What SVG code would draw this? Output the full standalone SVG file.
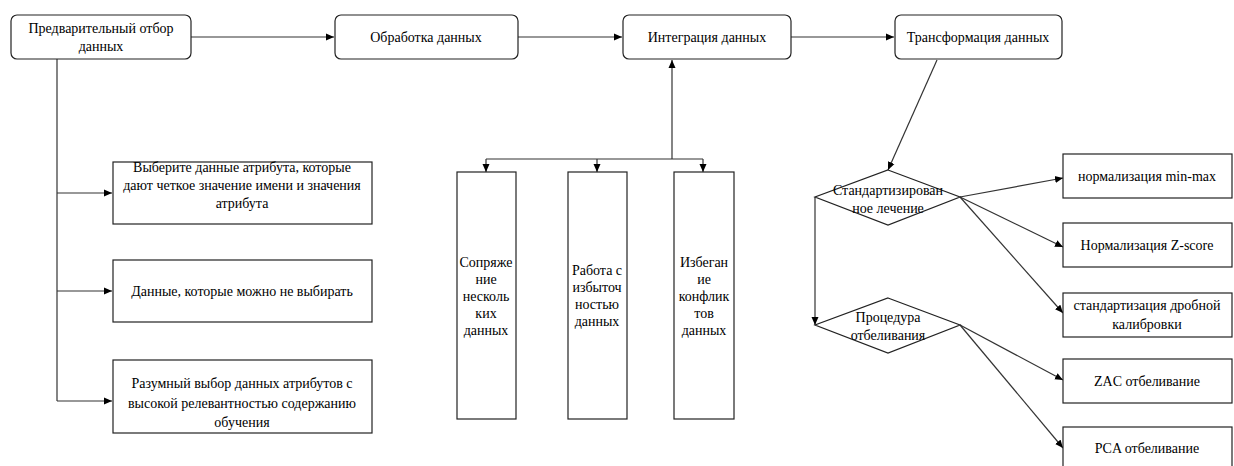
<svg xmlns="http://www.w3.org/2000/svg" width="1234" height="466" viewBox="0 0 1234 466">
<defs>
<marker id="ah" markerWidth="9" markerHeight="8" refX="8" refY="4" orient="auto" markerUnits="userSpaceOnUse">
<path d="M0,0.5 L8,4 L0,7.5 Z" fill="#000" stroke="none"/>
</marker>
<style>
.n{fill:#fff;stroke:#222;stroke-width:1.2}
.c{fill:none;stroke:#333;stroke-width:1.2}
.a{marker-end:url(#ah)}
</style>
</defs>
<rect width="1234" height="466" fill="#fff"/>
<g id="connectors">
<path class="c a" d="M191,37 L334,37"/>
<path class="c a" d="M518,37 L622,37"/>
<path class="c a" d="M791,37 L894,37"/>
<path class="c" d="M57,59 L57,401"/>
<path class="c a" d="M57,193 L112,193"/>
<path class="c a" d="M57,291 L112,291"/>
<path class="c a" d="M57,401 L112,401"/>
<path class="c a" d="M672,159 L672,60"/>
<path class="c" d="M486,159 L703,159"/>
<path class="c a" d="M486,159 L486,172"/>
<path class="c a" d="M597,159 L597,172"/>
<path class="c a" d="M703,159 L703,172"/>
<path class="c a" d="M937,60 L888,170"/>
<path class="c a" d="M815,197 L815,325"/>
<path class="c a" d="M960,197 L1063,178"/>
<path class="c a" d="M960,197 L1063,247"/>
<path class="c a" d="M960,197 L1063,313"/>
<path class="c a" d="M960,325 L1063,380"/>
<path class="c a" d="M960,325 L1063,448"/>
</g>
<g id="n1"><rect class="n" x="11" y="15" width="180" height="44" rx="6"/><text font-family="Times New Roman" font-size="14" text-anchor="middle" x="101" y="33">Предварительный отбор</text><text font-family="Times New Roman" font-size="14" text-anchor="middle" x="101" y="51">данных</text></g>
<g id="n2"><rect class="n" x="335" y="15" width="183" height="44" rx="6"/><text font-family="Times New Roman" font-size="14" text-anchor="middle" x="426" y="42">Обработка данных</text></g>
<g id="n3"><rect class="n" x="623" y="15" width="168" height="44" rx="6"/><text font-family="Times New Roman" font-size="14" text-anchor="middle" x="707" y="42">Интеграция данных</text></g>
<g id="n4"><rect class="n" x="895" y="15" width="167" height="44" rx="6"/><text font-family="Times New Roman" font-size="14" text-anchor="middle" x="978" y="42">Трансформация данных</text></g>
<g id="a1"><rect class="n" x="113" y="162" width="259" height="62"/><text font-family="Times New Roman" font-size="14" text-anchor="middle" x="242" y="172">Выберите данные атрибута, которые</text><text font-family="Times New Roman" font-size="14" text-anchor="middle" x="242" y="190">дают четкое значение имени и значения</text><text font-family="Times New Roman" font-size="14" text-anchor="middle" x="242" y="208">атрибута</text></g>
<g id="a2"><rect class="n" x="113" y="260" width="259" height="62"/><text font-family="Times New Roman" font-size="14" text-anchor="middle" x="242" y="296">Данные, которые можно не выбирать</text></g>
<g id="a3"><rect class="n" x="113" y="360" width="259" height="73"/><text font-family="Times New Roman" font-size="14" text-anchor="middle" x="242" y="388">Разумный выбор данных атрибутов с</text><text font-family="Times New Roman" font-size="14" text-anchor="middle" x="242" y="408">высокой релевантностью содержанию</text><text font-family="Times New Roman" font-size="14" text-anchor="middle" x="242" y="427">обучения</text></g>
<g id="b1"><rect class="n" x="457" y="172" width="59" height="247"/><text font-family="Times New Roman" font-size="14" text-anchor="middle" x="486" y="267">Сопряже</text><text font-family="Times New Roman" font-size="14" text-anchor="middle" x="486" y="284">ние</text><text font-family="Times New Roman" font-size="14" text-anchor="middle" x="486" y="301">несколь</text><text font-family="Times New Roman" font-size="14" text-anchor="middle" x="486" y="318">ких</text><text font-family="Times New Roman" font-size="14" text-anchor="middle" x="486" y="335">данных</text></g>
<g id="b2"><rect class="n" x="568" y="172" width="59" height="247"/><text font-family="Times New Roman" font-size="14" text-anchor="middle" x="597" y="275">Работа с</text><text font-family="Times New Roman" font-size="14" text-anchor="middle" x="597" y="292">избыточ</text><text font-family="Times New Roman" font-size="14" text-anchor="middle" x="597" y="309">ностью</text><text font-family="Times New Roman" font-size="14" text-anchor="middle" x="597" y="326">данных</text></g>
<g id="b3"><rect class="n" x="674" y="172" width="60" height="247"/><text font-family="Times New Roman" font-size="14" text-anchor="middle" x="704" y="267">Избеган</text><text font-family="Times New Roman" font-size="14" text-anchor="middle" x="704" y="284">ие</text><text font-family="Times New Roman" font-size="14" text-anchor="middle" x="704" y="301">конфлик</text><text font-family="Times New Roman" font-size="14" text-anchor="middle" x="704" y="318">тов</text><text font-family="Times New Roman" font-size="14" text-anchor="middle" x="704" y="335">данных</text></g>
<g id="d1"><polygon class="n" points="888,170 960,197 888,225 815,197"/><text font-family="Times New Roman" font-size="14" text-anchor="middle" x="888" y="195">Стандартизирован</text><text font-family="Times New Roman" font-size="14" text-anchor="middle" x="888" y="213">ное лечение</text></g>
<g id="d2"><polygon class="n" points="888,298 960,325 888,353 815,325"/><text font-family="Times New Roman" font-size="14" text-anchor="middle" x="888" y="322">Процедура</text><text font-family="Times New Roman" font-size="14" text-anchor="middle" x="888" y="340">отбеливания</text></g>
<g id="r1"><rect class="n" x="1063" y="154" width="169" height="44"/><text font-family="Times New Roman" font-size="14" text-anchor="middle" x="1147" y="181">нормализация min-max</text></g>
<g id="r2"><rect class="n" x="1063" y="223" width="169" height="44"/><text font-family="Times New Roman" font-size="14" text-anchor="middle" x="1147" y="250">Нормализация Z-score</text></g>
<g id="r3"><rect class="n" x="1063" y="293" width="169" height="44"/><text font-family="Times New Roman" font-size="14" text-anchor="middle" x="1147" y="310">стандартизация дробной</text><text font-family="Times New Roman" font-size="14" text-anchor="middle" x="1147" y="329">калибровки</text></g>
<g id="r4"><rect class="n" x="1063" y="359" width="169" height="44"/><text font-family="Times New Roman" font-size="14" text-anchor="middle" x="1147" y="386">ZAC отбеливание</text></g>
<g id="r5"><rect class="n" x="1063" y="427" width="169" height="44"/><text font-family="Times New Roman" font-size="14" text-anchor="middle" x="1147" y="453">PCA отбеливание</text></g>
</svg>
